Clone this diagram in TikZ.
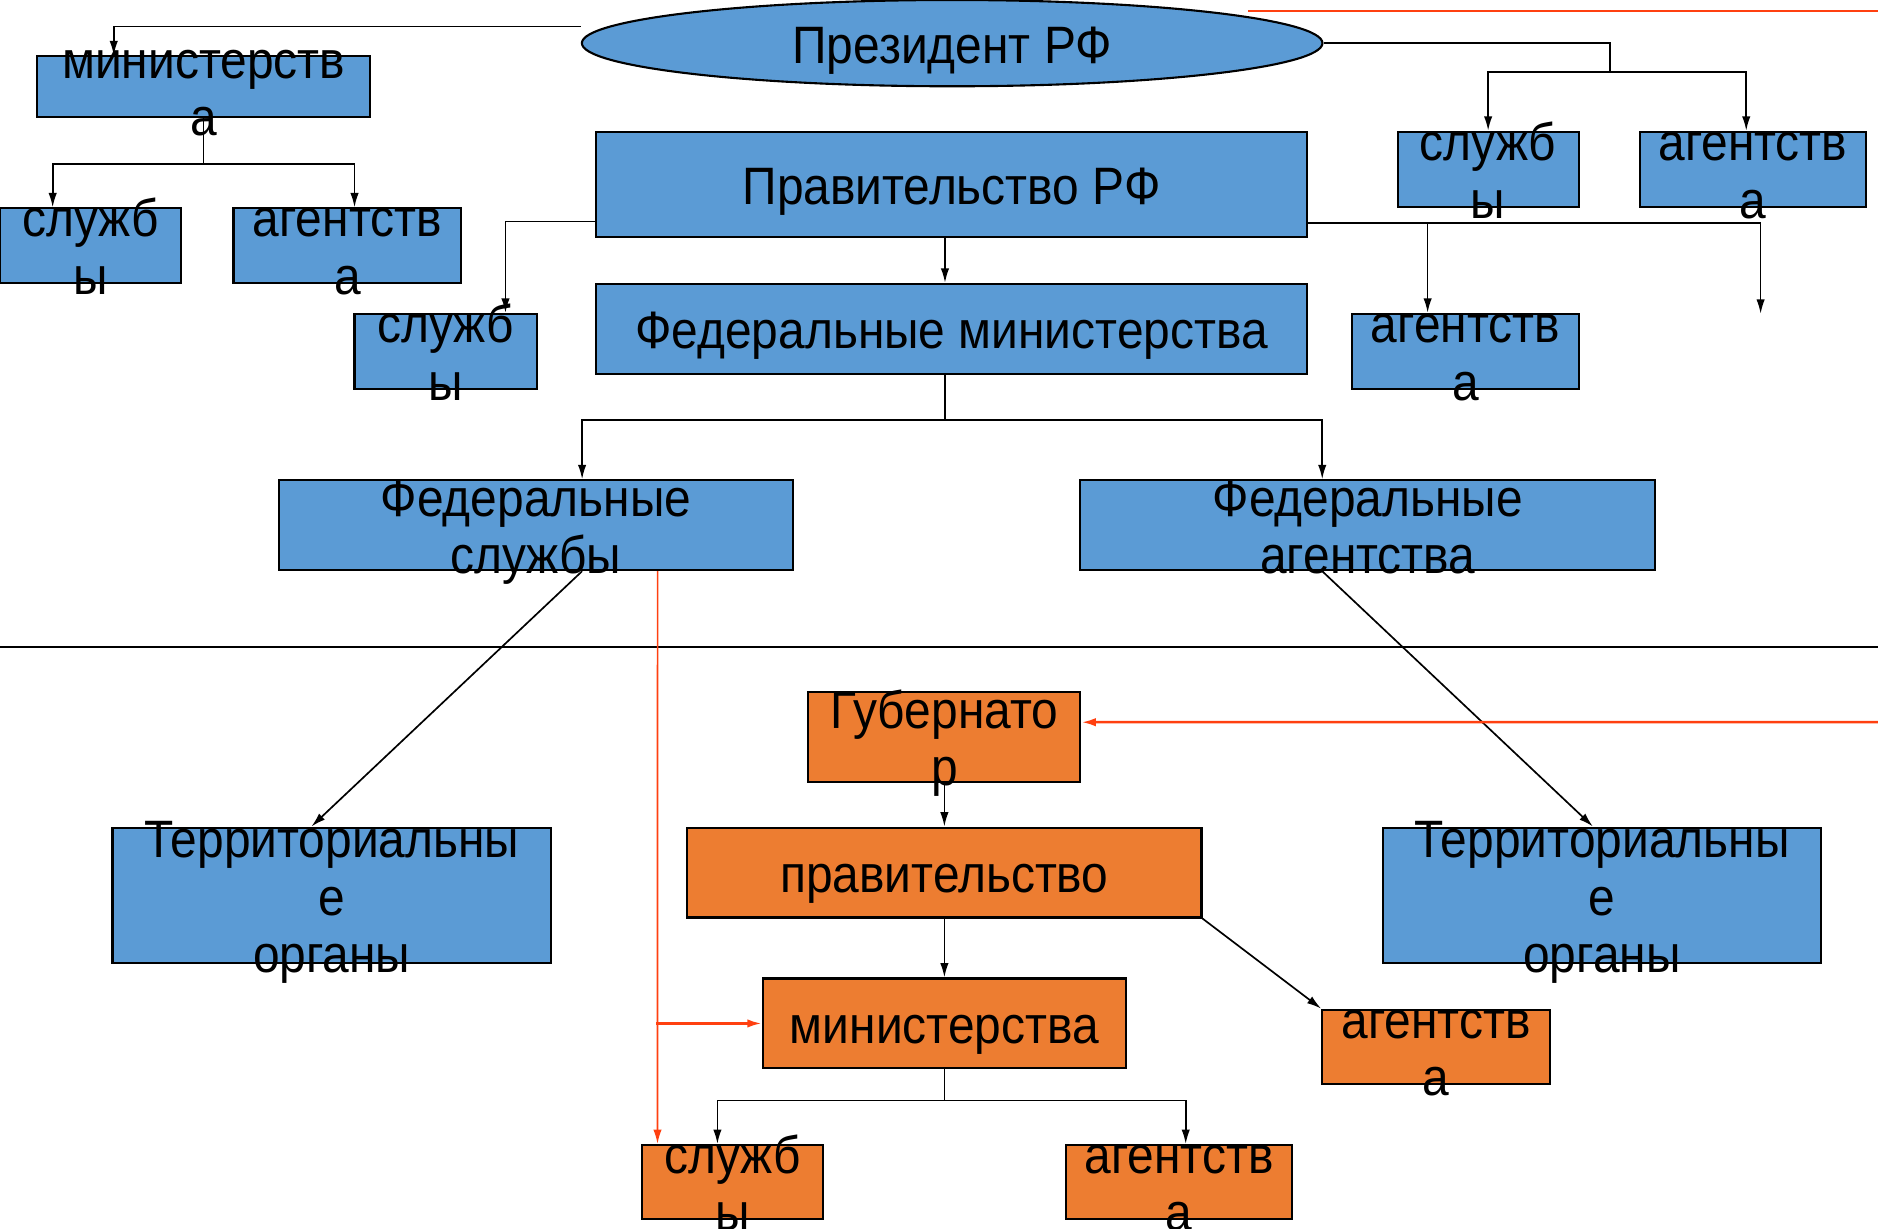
\documentclass[tikz,border=0pt]{standalone}
\usepackage{fontspec}
\setmainfont{Liberation Sans}[FakeStretch=0.91]
\usepackage{tikz}
\usetikzlibrary{shapes.geometric}
\usetikzlibrary{arrows.meta}
\definecolor{blu}{RGB}{91,155,213}
\definecolor{oran}{RGB}{237,125,49}
\definecolor{krasn}{RGB}{255,64,16}
\newcommand{\stroki}[1]{\raisebox{-.4em}[0pt][0pt]{\begin{tabular}{@{}c@{}}#1\end{tabular}}}

\begin{document}
\begin{tikzpicture}[x=0.01cm, y=-0.01cm,
    every node/.style={font=\fontsize{12.5}{13.6}\selectfont, inner sep=0pt},
    bl/.style={draw, fill=blu, line width=0.5pt, rectangle},
    orb/.style={draw, fill=oran, line width=0.5pt, rectangle},
    arr/.style={-{Latex[length=1.2mm,width=0.7mm]}, line width=0.4pt},
    redarr/.style={-{Latex[length=1.2mm,width=0.7mm]}, draw=krasn, fill=krasn, line width=0.6pt}]
    \useasboundingbox (0,0) rectangle (1568,1026);

    \node[draw, ellipse, fill=blu, line width=0.5pt, minimum width=6.18cm, minimum height=0.72cm] (prez) at (795,36) {\stroki{Президент РФ}};

    \node[bl, minimum width=2.78cm, minimum height=0.51cm] (min) at (170,72.5) {\stroki{министерств\\а}};
    \node[bl, minimum width=1.51cm, minimum height=0.62cm] (sl) at (75.5,205) {\stroki{служб\\ы}};
    \node[bl, minimum width=1.90cm, minimum height=0.62cm] (ag) at (290,205) {\stroki{агентств\\а}};

    \node[bl, minimum width=5.93cm, minimum height=0.88cm] (pravrf) at (794.5,154) {\stroki{Правительство РФ}};
    \node[bl, minimum width=5.93cm, minimum height=0.75cm] (fedmin) at (794.5,274.5) {\stroki{Федеральные министерства}};
    \node[bl, minimum width=1.52cm, minimum height=0.63cm] (slp) at (372,293.5) {\stroki{служб\\ы}};
    \node[bl, minimum width=1.89cm, minimum height=0.63cm] (agp) at (1223.5,293.5) {\stroki{агентств\\а}};

    \node[bl, minimum width=1.51cm, minimum height=0.63cm] (slr) at (1242.5,141.5) {\stroki{служб\\ы}};
    \node[bl, minimum width=1.89cm, minimum height=0.63cm] (agr) at (1463.5,141.5) {\stroki{агентств\\а}};

    \node[bl, minimum width=4.29cm, minimum height=0.75cm] (fedsl) at (447.5,438.5) {\stroki{Федеральные\\службы}};
    \node[bl, minimum width=4.80cm, minimum height=0.75cm] (fedag) at (1142,438.5) {\stroki{Федеральные\\агентства}};

    \node[bl, minimum width=3.66cm, minimum height=1.13cm] (terl) at (277,747.5) {\stroki{Территориальны\\е\\органы}};
    \node[bl, minimum width=3.65cm, minimum height=1.13cm] (terr) at (1337.5,747.5) {\stroki{Территориальны\\е\\органы}};

    \node[orb, minimum width=2.27cm, minimum height=0.75cm] (gub) at (788.5,615.5) {\stroki{Губернато\\р}};
    \node[orb, minimum width=4.29cm, minimum height=0.75cm] (prav) at (788.5,728.5) {\stroki{правительство}};
    \node[orb, minimum width=3.03cm, minimum height=0.75cm] (rmin) at (788.5,854.5) {\stroki{министерства}};
    \node[orb, minimum width=1.90cm, minimum height=0.62cm] (rag) at (1199,874) {\stroki{агентств\\а}};
    \node[orb, minimum width=1.51cm, minimum height=0.62cm] (rsl) at (611.5,987) {\stroki{служб\\ы}};
    \node[orb, minimum width=1.89cm, minimum height=0.62cm] (rag2) at (984.5,987) {\stroki{агентств\\а}};

    \coordinate (razdL) at (0,540);
    \coordinate (razdR) at (1568,540);
    \coordinate (krL) at (1042,9);
    \coordinate (krR) at (1568,9);
    \coordinate (krG) at (1568,603);
    \coordinate (pusto) at (1470,262);

    \draw[arr] ([yshift=1.4mm]prez.west) -| ([xshift=-7.5mm]min.north);
    \draw[arr] (min.south) -- ++(0,38) -| ([xshift=-3.15mm]sl.north);
    \draw[arr] (min.south) -- ++(0,38) -| ([xshift=0.6mm]ag.north);

    \draw[arr] (prez.east) -- ++(239,0) -- ++(0,24) -| (slr.north);
    \draw[arr] (prez.east) -- ++(239,0) -- ++(0,24) -| ([xshift=-0.55mm]agr.north);

    \draw[arr] ([xshift=-0.55mm]pravrf.south) -- ([xshift=-0.55mm]fedmin.north);
    \draw[arr] ([yshift=-3.1mm]pravrf.west) -| ([xshift=5mm]slp.north);
    \draw[arr] ([yshift=-3.2mm]pravrf.east) -| ([xshift=-3.15mm]agp.north);
    \draw[arr] ([yshift=-3.2mm]pravrf.east) -| (pusto);

    \draw[arr] ([xshift=-0.55mm]fedmin.south) -- ++(0,38) -| ([xshift=3.85mm]fedsl.north);
    \draw[arr] ([xshift=-0.55mm]fedmin.south) -- ++(0,38) -| ([xshift=-3.8mm]fedag.north);

    \draw[line width=0.6pt] (razdL) -- (razdR);

    \draw[arr] ([xshift=3.85mm]fedsl.south) -- ([xshift=-1.7mm]terl.north);
    \draw[arr] ([xshift=-3.8mm]fedag.south) -- ([xshift=-0.75mm]terr.north);

    \draw[draw=krasn, line width=0.6pt] (krL) -- (krR);
    \draw[redarr] (krG) -- ([yshift=1.25mm]gub.east);
    \draw[redarr, line width=0.4pt] ([xshift=10.15mm]fedsl.south) -- ([xshift=-6.25mm]rsl.north);
    \draw[redarr] ([xshift=-8.8mm]rmin.west) -- (rmin.west);

    \draw[arr] (gub.south) -- (prav.north);
    \draw[arr] (prav.south) -- (rmin.north);
    \draw[arr] (prav.south east) -- (rag.north west);
    \draw[arr] (rmin.south) -- ++(0,26) -| ([xshift=-1.25mm]rsl.north);
    \draw[arr] (rmin.south) -- ++(0,26) -| ([xshift=0.55mm]rag2.north);
\end{tikzpicture}
\end{document}
